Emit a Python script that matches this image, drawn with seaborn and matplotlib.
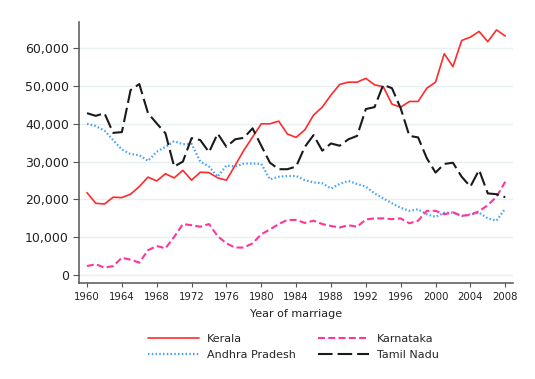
import numpy as np
import pandas as pd
import seaborn as sns
from matplotlib import pyplot as plt
from matplotlib.ticker import FuncFormatter, MultipleLocator

years = list(range(1960, 2009))

# values in rupees
kerala = [21800, 19000, 18800, 20600, 20500, 21400, 23400, 25900, 24900, 26800,
          25700, 27700, 25100, 27200, 27100, 25700, 25100, 29000, 33000, 36500,
          40000, 40000, 40700, 37300, 36400, 38400, 42300, 44400, 47600, 50400,
          51000, 51000, 52000, 50300, 49800, 45200, 44400, 45900, 45900, 49400,
          51000, 58500, 55100, 62000, 62900, 64400, 61700, 64800, 63200]
karnataka = [2400, 2900, 2000, 2400, 4600, 4100, 3300, 6600, 7700, 7100,
             10100, 13500, 13200, 12800, 13500, 10300, 8400, 7300, 7300, 8400,
             10800, 12100, 13500, 14600, 14600, 13800, 14400, 13500, 13000, 12600,
             13200, 12800, 14700, 15000, 15000, 14800, 15000, 13700, 14400, 17000,
             17000, 16100, 16600, 15700, 15900, 16900, 18500, 20700, 24700]
andhra = [40000, 39400, 38200, 35700, 33200, 32000, 31700, 30200, 32600, 33900,
          35400, 34600, 34700, 30000, 28700, 26000, 29000, 28700, 29500, 29500,
          29400, 25300, 26000, 26200, 26200, 25100, 24500, 24300, 22900, 24100,
          24900, 24100, 23400, 21600, 20300, 19000, 17800, 17000, 17400, 16100,
          15400, 16500, 16500, 15600, 16100, 16500, 15000, 14400, 17600]
tamil = [42800, 42100, 42800, 37600, 37800, 48900, 50500, 42800, 40100, 37500,
         28700, 30000, 36200, 35700, 32500, 37400, 33900, 35900, 36300, 38800,
         34200, 29700, 28000, 28000, 28700, 33900, 37000, 32900, 34800, 34200,
         35900, 36800, 43900, 44400, 50300, 49400, 44100, 36800, 36400, 30900,
         27100, 29400, 29700, 26000, 23400, 27800, 21600, 21400, 20600]

states = ["Kerala", "Andhra Pradesh", "Karnataka", "Tamil Nadu"]
colors = {"Kerala": "#ff2b2b", "Andhra Pradesh": "#44a2f5",
          "Karnataka": "#ff359c", "Tamil Nadu": "#1a1a1a"}
dash_map = {"Kerala": "", "Andhra Pradesh": (1.1, 1.6),
            "Karnataka": (5, 2.4), "Tamil Nadu": (10.5, 3.6)}
widths = {"Kerala": 1.2, "Andhra Pradesh": 1.6, "Karnataka": 1.5, "Tamil Nadu": 1.5}

df = pd.concat([
    pd.DataFrame({"year": years, "value": kerala, "state": "Kerala"}),
    pd.DataFrame({"year": years, "value": andhra, "state": "Andhra Pradesh"}),
    pd.DataFrame({"year": years, "value": karnataka, "state": "Karnataka"}),
    pd.DataFrame({"year": years, "value": tamil, "state": "Tamil Nadu"}),
])

sns.set_style("ticks")
plt.rcParams['font.family'] = ['DejaVu Sans']
plt.rcParams['lines.scale_dashes'] = False

fig = plt.figure(figsize=(5.35, 3.79), dpi=100)
ax = fig.add_axes([0.148, 0.253, 0.811, 0.689])

for s in states:
    sns.lineplot(data=df[df.state == s], x="year", y="value", color=colors[s],
                 linewidth=widths[s], ax=ax, label=s)
for line, s in zip(ax.get_lines(), states):
    if dash_map[s]:
        line.set_dashes(dash_map[s])

ax.set_xlim(1959.1, 2008.9)
ax.set_ylim(-2100, 66900)
ax.xaxis.set_major_locator(MultipleLocator(4))
ax.yaxis.set_major_locator(MultipleLocator(10000))
ax.yaxis.set_major_formatter(FuncFormatter(lambda v, p: f"{int(v):,}"))
ax.grid(axis="y", color="#e8f0f0", linewidth=1)
ax.set_axisbelow(True)
sns.despine(ax=ax)
for sp in ["left", "bottom"]:
    ax.spines[sp].set_color("#555555")
    ax.spines[sp].set_linewidth(1.1)
ax.tick_params(axis="y", labelsize=9, length=4, color="#555555", labelcolor="#222222")
ax.tick_params(axis="x", labelsize=7.3, length=3, color="#555555", labelcolor="#222222")
ax.set_xlabel("Year of marriage", fontsize=8, color="#222222", labelpad=5)
ax.set_ylabel("")

handles, labels = ax.get_legend_handles_labels()
ax.legend(handles, labels, ncol=2, loc="upper center", bbox_to_anchor=(0.493, -0.155),
          frameon=False, fontsize=8, handlelength=4.6, columnspacing=2.0,
          labelspacing=0.6, handletextpad=0.7)

fig.savefig("out.png", dpi=100)
